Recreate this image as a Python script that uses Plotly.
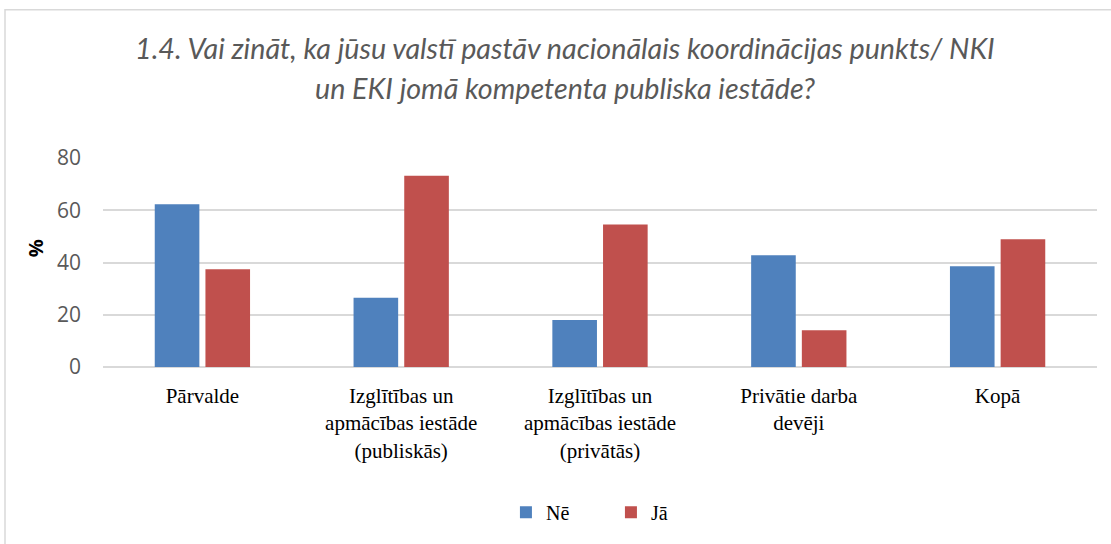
import plotly.graph_objects as go

categories = [
    "Pārvalde",
    "Izglītības un<br>apmācības iestāde<br>(publiskās)",
    "Izglītības un<br>apmācības iestāde<br>(privātās)",
    "Privātie darba<br>devēji",
    "Kopā",
]
ne_values = [62.3, 26.5, 18.0, 42.8, 38.6]
ja_values = [37.4, 73.2, 54.5, 14.1, 48.9]
series_names = ["Nē", "Jā"]
title_lines = [
    "1.4. Vai zināt, ka jūsu valstī pastāv nacionālais koordinācijas punkts/ NKI",
    "un EKI jomā kompetenta publiska iestāde?",
]
y_ticks = [0, 20, 40, 60, 80]

W, H = 1111, 544
ML, MR, MT, MB = 103, 14, 158, 173
PW = W - ML - MR
PH = H - MT - MB

def px_x(x):
    return (x - ML) / PW

def px_y(y):
    return (H - MB - y) / PH

fig = go.Figure()
fig.add_trace(go.Bar(name=series_names[0], x=categories, y=ne_values,
                     marker=dict(color="#4F81BD", line=dict(width=0))))
fig.add_trace(go.Bar(name=series_names[1], x=categories, y=ja_values,
                     marker=dict(color="#C0504D", line=dict(width=0))))

fig.update_layout(
    width=W, height=H,
    margin=dict(l=ML, r=MR, t=MT, b=MB),
    paper_bgcolor="white", plot_bgcolor="white",
    barmode="group", bargap=0.49, bargroupgap=0.12,
    showlegend=True,
    legend=dict(orientation="h", x=0.511, xanchor="center", y=px_y(519), yanchor="middle",
                font=dict(family="Liberation Serif", size=20, color="#000000"),
                entrywidth=60, entrywidthmode="pixels"),
    font=dict(family="Liberation Serif"),
)
fig.update_xaxes(showgrid=False, showline=False, zeroline=False, ticks="",
                 tickfont=dict(family="Liberation Serif", size=21, color="#000000"),
                 ticklabelstandoff=14)
fig.update_yaxes(range=[0, 80], tickvals=y_ticks, showgrid=True, gridcolor="#D9D9D9", gridwidth=1.5,
                 zeroline=True, zerolinecolor="#D9D9D9", zerolinewidth=1.5, showline=False, ticks="",
                 tickfont=dict(family="Open Sans", size=21, color="#595959"),
                 ticklabelstandoff=21)

# y-axis title
fig.add_annotation(text="<b>%</b>", x=px_x(35), y=px_y(250), xref="paper", yref="paper",
                   showarrow=False, textangle=-90,
                   font=dict(family="Open Sans", size=20, color="#000000"),
                   xanchor="center", yanchor="middle")
# title lines
for line, yc in zip(title_lines, [46, 87]):
    fig.add_annotation(text="<i>" + line + "</i>", x=px_x(565), y=px_y(yc), xref="paper", yref="paper",
                       showarrow=False, xanchor="center", yanchor="middle",
                       font=dict(family="Lato", size=28.7, color="#595959"))

# chart frame
fig.add_shape(type="rect", xref="paper", yref="paper",
              x0=px_x(5), x1=px_x(1120), y0=px_y(560), y1=px_y(7),
              line=dict(color="#D9D9D9", width=1.5), fillcolor="rgba(0,0,0,0)", layer="below")

fig.write_html("out.html", config={"displayModeBar": False},
               post_script="document.body.style.margin='0';")
